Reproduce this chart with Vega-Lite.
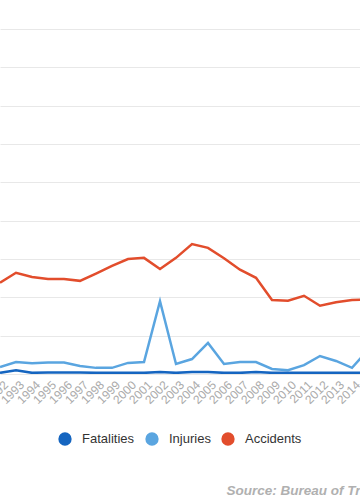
{
  "$schema": "https://vega.github.io/schema/vega-lite/v6.json",
  "width": 360,
  "height": 345,
  "autosize": "none",
  "padding": {"left": 0, "top": 29, "right": 0, "bottom": 130},
  "background": "white",
  "config": {
    "view": {"stroke": null},
    "font": "Liberation Sans"
  },
  "data": {
    "values": [
      {"year": 1992, "series": "Accidents", "value": 238},
      {"year": 1993, "series": "Accidents", "value": 264},
      {"year": 1994, "series": "Accidents", "value": 253},
      {"year": 1995, "series": "Accidents", "value": 248},
      {"year": 1996, "series": "Accidents", "value": 248},
      {"year": 1997, "series": "Accidents", "value": 243},
      {"year": 1998, "series": "Accidents", "value": 262},
      {"year": 1999, "series": "Accidents", "value": 282},
      {"year": 2000, "series": "Accidents", "value": 300},
      {"year": 2001, "series": "Accidents", "value": 303},
      {"year": 2002, "series": "Accidents", "value": 274},
      {"year": 2003, "series": "Accidents", "value": 303},
      {"year": 2004, "series": "Accidents", "value": 339},
      {"year": 2005, "series": "Accidents", "value": 329},
      {"year": 2006, "series": "Accidents", "value": 302},
      {"year": 2007, "series": "Accidents", "value": 272},
      {"year": 2008, "series": "Accidents", "value": 251},
      {"year": 2009, "series": "Accidents", "value": 193},
      {"year": 2010, "series": "Accidents", "value": 191},
      {"year": 2011, "series": "Accidents", "value": 204},
      {"year": 2012, "series": "Accidents", "value": 178},
      {"year": 2013, "series": "Accidents", "value": 187},
      {"year": 2014, "series": "Accidents", "value": 193},
      {"year": 2015, "series": "Accidents", "value": 195},
      {"year": 1992, "series": "Injuries", "value": 18},
      {"year": 1993, "series": "Injuries", "value": 31},
      {"year": 1994, "series": "Injuries", "value": 28},
      {"year": 1995, "series": "Injuries", "value": 30},
      {"year": 1996, "series": "Injuries", "value": 30},
      {"year": 1997, "series": "Injuries", "value": 21},
      {"year": 1998, "series": "Injuries", "value": 16},
      {"year": 1999, "series": "Injuries", "value": 16},
      {"year": 2000, "series": "Injuries", "value": 29},
      {"year": 2001, "series": "Injuries", "value": 31},
      {"year": 2002, "series": "Injuries", "value": 190},
      {"year": 2003, "series": "Injuries", "value": 26},
      {"year": 2004, "series": "Injuries", "value": 39},
      {"year": 2005, "series": "Injuries", "value": 81},
      {"year": 2006, "series": "Injuries", "value": 26},
      {"year": 2007, "series": "Injuries", "value": 31},
      {"year": 2008, "series": "Injuries", "value": 31},
      {"year": 2009, "series": "Injuries", "value": 13},
      {"year": 2010, "series": "Injuries", "value": 10},
      {"year": 2011, "series": "Injuries", "value": 23},
      {"year": 2012, "series": "Injuries", "value": 47},
      {"year": 2013, "series": "Injuries", "value": 34},
      {"year": 2014, "series": "Injuries", "value": 16},
      {"year": 2015, "series": "Injuries", "value": 63},
      {"year": 1992, "series": "Fatalities", "value": 3},
      {"year": 1993, "series": "Fatalities", "value": 10},
      {"year": 1994, "series": "Fatalities", "value": 3},
      {"year": 1995, "series": "Fatalities", "value": 4},
      {"year": 1996, "series": "Fatalities", "value": 4},
      {"year": 1997, "series": "Fatalities", "value": 4},
      {"year": 1998, "series": "Fatalities", "value": 3},
      {"year": 1999, "series": "Fatalities", "value": 3},
      {"year": 2000, "series": "Fatalities", "value": 3},
      {"year": 2001, "series": "Fatalities", "value": 3},
      {"year": 2002, "series": "Fatalities", "value": 5},
      {"year": 2003, "series": "Fatalities", "value": 3},
      {"year": 2004, "series": "Fatalities", "value": 5},
      {"year": 2005, "series": "Fatalities", "value": 5},
      {"year": 2006, "series": "Fatalities", "value": 3},
      {"year": 2007, "series": "Fatalities", "value": 3},
      {"year": 2008, "series": "Fatalities", "value": 5},
      {"year": 2009, "series": "Fatalities", "value": 3},
      {"year": 2010, "series": "Fatalities", "value": 3},
      {"year": 2011, "series": "Fatalities", "value": 3},
      {"year": 2012, "series": "Fatalities", "value": 3},
      {"year": 2013, "series": "Fatalities", "value": 3},
      {"year": 2014, "series": "Fatalities", "value": 3},
      {"year": 2015, "series": "Fatalities", "value": 4}
    ]
  },
  "mark": {"type": "line", "strokeWidth": 2.5, "clip": true},
  "encoding": {
    "x": {
      "field": "year",
      "type": "quantitative",
      "scale": {"domain": [1992, 2014.5], "nice": false, "zero": false},
      "axis": {
        "values": [1992, 1993, 1994, 1995, 1996, 1997, 1998, 1999, 2000, 2001, 2002, 2003, 2004, 2005, 2006, 2007, 2008, 2009, 2010, 2011, 2012, 2013, 2014, 2015],
        "format": "d",
        "labelAngle": -45,
        "labelAlign": "right",
        "labelBaseline": "top",
        "labelOffset": 2,
        "labelPadding": 5,
        "labelFontSize": 12,
        "labelColor": "#aaaaaa",
        "labelOverlap": false,
        "labelBound": false,
        "labelFlush": false,
        "ticks": false,
        "domain": false,
        "grid": false,
        "title": "Source: Bureau of Transportation Statistics",
        "titleX": 226,
        "titleY": 120,
        "titleAlign": "left",
        "titleAnchor": null,
        "titleBaseline": "alphabetic",
        "titleFontSize": 13.5,
        "titleFontStyle": "italic",
        "titleFontWeight": "bold",
        "titleColor": "#b0b0b0"
      }
    },
    "y": {
      "field": "value",
      "type": "quantitative",
      "scale": {"domain": [0, 900], "nice": false},
      "axis": {
        "values": [0, 100, 200, 300, 400, 500, 600, 700, 800, 900],
        "labels": false,
        "ticks": false,
        "domain": false,
        "title": null,
        "grid": true,
        "gridColor": "#e8e8e8",
        "gridWidth": 1
      }
    },
    "color": {
      "field": "series",
      "type": "nominal",
      "sort": ["Fatalities", "Injuries", "Accidents"],
      "scale": {
        "domain": ["Fatalities", "Injuries", "Accidents"],
        "range": ["#1565c0", "#5aa5e0", "#e24d2c"]
      },
      "legend": {
        "orient": "none",
        "legendX": 58,
        "legendY": 403,
        "direction": "horizontal",
        "title": null,
        "padding": 0,
        "symbolType": "circle",
        "symbolSize": 177,
        "symbolStrokeWidth": 0,
        "labelFontSize": 13,
        "labelColor": "#333333",
        "labelOffset": 10,
        "columnPadding": 10,
        "encode": {
          "symbols": {
            "update": {
              "fill": {"scale": "color", "field": "value"},
              "strokeWidth": {"value": 0},
              "opacity": {"value": 1}
            }
          }
        }
      }
    },
    "order": {"field": "series"}
  }
}
